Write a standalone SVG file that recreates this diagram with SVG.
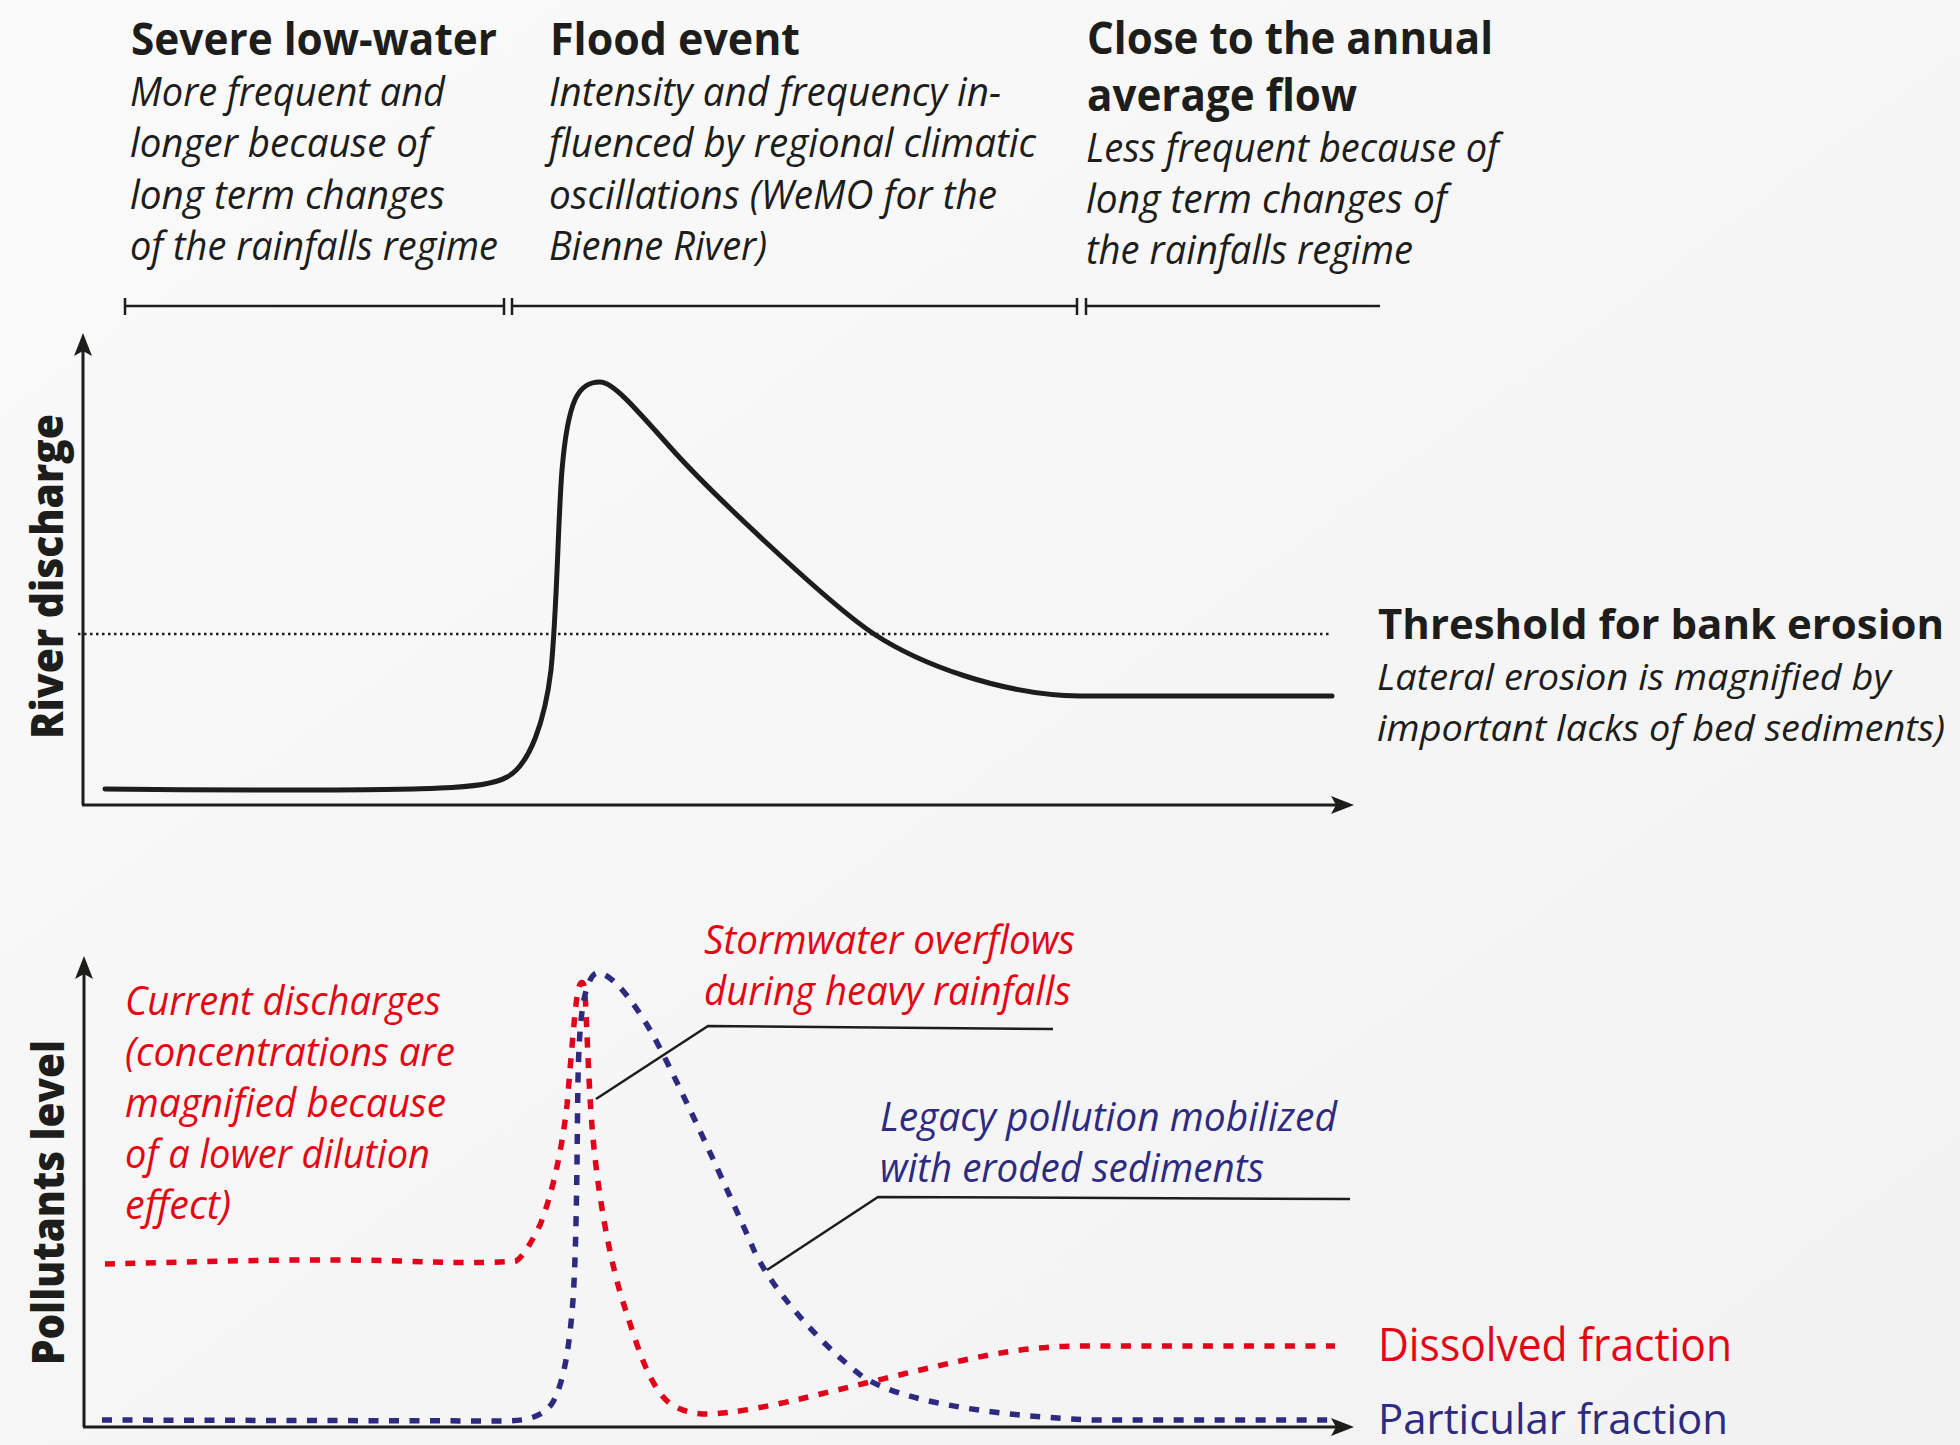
<svg xmlns="http://www.w3.org/2000/svg" width="1960" height="1445" viewBox="0 0 1960 1445">
<defs>
<linearGradient id="bg" x1="0" y1="0" x2="1" y2="1">
<stop offset="0" stop-color="#fafafa"/>
<stop offset="1" stop-color="#f2f2f2"/>
</linearGradient>
<marker id="arr" viewBox="0 0 24 18" markerWidth="24" markerHeight="18" refX="13" refY="9" orient="auto" markerUnits="userSpaceOnUse">
<path d="M0,0 L23,9 L0,18 L5,9 Z" fill="#1d1d1b"/>
</marker>
<style>
text { font-family: "Open Sans", "Noto Sans", "Liberation Sans", sans-serif; }
.hb { font-weight: 700; font-size: 44px; fill: #1d1d1b; }
.it { font-style: italic; font-size: 40px; fill: #1d1d1b; }
.vl { font-weight: 800; font-size: 44px; fill: #1d1d1b; }
.lab { font-size: 45px; }
.red { fill: #e30613; }
.blue { fill: #2d2a80; }
.ax { stroke: #1d1d1b; stroke-width: 3; fill: none; }
.bar { stroke: #1d1d1b; stroke-width: 2.5; fill: none; }
.lead { stroke: #1d1d1b; stroke-width: 2.5; fill: none; }
.thr { stroke: #1d1d1b; stroke-width: 2.5; stroke-dasharray: 2.5 3.5; fill: none; }
.q { stroke: #1d1d1b; stroke-width: 5; fill: none; stroke-linecap: round; stroke-linejoin: round; }
.dr { stroke: #e2001a; stroke-width: 5.5; stroke-dasharray: 10 10.5; fill: none; }
.db { stroke: #2d2a80; stroke-width: 5.5; stroke-dasharray: 10 10.5; fill: none; }
</style>
</defs>
<rect width="1960" height="1445" fill="url(#bg)"/>

<g id="low-water">
<text class="hb" x="131" y="55" textLength="366" lengthAdjust="spacingAndGlyphs">Severe low-water</text>
<text class="it" x="130" y="106" textLength="315" lengthAdjust="spacingAndGlyphs">More frequent and</text>
<text class="it" x="130" y="157" textLength="300" lengthAdjust="spacingAndGlyphs">longer because of</text>
<text class="it" x="130" y="209" textLength="315" lengthAdjust="spacingAndGlyphs">long term changes</text>
<text class="it" x="130" y="260" textLength="368" lengthAdjust="spacingAndGlyphs">of the rainfalls regime</text>
</g>

<g id="flood-event">
<text class="hb" x="550" y="55" textLength="250" lengthAdjust="spacingAndGlyphs">Flood event</text>
<text class="it" x="549" y="106" textLength="452" lengthAdjust="spacingAndGlyphs">Intensity and frequency in-</text>
<text class="it" x="549" y="157" textLength="487" lengthAdjust="spacingAndGlyphs">fluenced by regional climatic</text>
<text class="it" x="549" y="209" textLength="448" lengthAdjust="spacingAndGlyphs">oscillations (WeMO for the</text>
<text class="it" x="549" y="260" textLength="218" lengthAdjust="spacingAndGlyphs">Bienne River)</text>
</g>

<g id="average-flow">
<text class="hb" x="1087" y="54" textLength="406" lengthAdjust="spacingAndGlyphs">Close to the annual</text>
<text class="hb" x="1087" y="111" textLength="270" lengthAdjust="spacingAndGlyphs">average flow</text>
<text class="it" x="1086" y="162" textLength="413" lengthAdjust="spacingAndGlyphs">Less frequent because of</text>
<text class="it" x="1086" y="213" textLength="361" lengthAdjust="spacingAndGlyphs">long term changes of</text>
<text class="it" x="1086" y="264" textLength="327" lengthAdjust="spacingAndGlyphs">the rainfalls regime</text>
</g>

<g id="timeline">
<path class="bar" d="M125,306 H504 M125,298 V315 M504,298 V315"/>
<path class="bar" d="M512,306 H1077 M512,298 V315 M1077,298 V315"/>
<path class="bar" d="M1086,306 H1380 M1086,298 V315"/>
</g>

<g id="discharge-chart">
<path class="ax" d="M83,805 V343" marker-end="url(#arr)"/>
<path class="ax" d="M82,805 H1344" marker-end="url(#arr)"/>
<path class="thr" d="M78,634 H1329"/>
<path class="q" d="M105,789 C250,791 400,790 440,788 C470,787 495,784 507,777 C530,765 545,720 551,670 C557,610 558,520 562,470 C568,400 578,382 600,382 C612,382 630,402 670,447 C710,492 830,605 874,634 C918,663 1000,695 1080,696 L1332,696"/>
<text class="vl" transform="translate(63,739) rotate(-90)" textLength="325" lengthAdjust="spacingAndGlyphs">River discharge</text>
</g>

<g id="threshold">
<text class="hb" x="1378" y="639" style="font-size:41px" textLength="566" lengthAdjust="spacingAndGlyphs">Threshold for bank erosion</text>
<text class="it" x="1377" y="690" style="font-size:37px" textLength="514" lengthAdjust="spacingAndGlyphs">Lateral erosion is magnified by</text>
<text class="it" x="1377" y="741" style="font-size:37px" textLength="568" lengthAdjust="spacingAndGlyphs">important lacks of bed sediments)</text>
</g>

<g id="pollutants-chart">
<path class="ax" d="M84,1427 V966" marker-end="url(#arr)"/>
<path class="ax" d="M83,1427 H1344" marker-end="url(#arr)"/>
<path id="dissolved-curve" class="dr" d="M105,1264 C200,1262 300,1258 400,1261 C450,1263 500,1263 516,1261 C522,1258 530,1245 540,1225 C552,1195 562,1150 567,1105 C571,1060 575,1005 578,991 C580,980 584,979 585,992 C587,1030 589,1090 592,1126 C597,1190 610,1265 626,1311 C637,1345 650,1390 672,1405 C685,1412 695,1414 707,1414 C730,1414 770,1406 800,1399 C850,1387 910,1372 960,1361 C1000,1352 1040,1346 1080,1346 L1335,1346"/>
<path id="particular-curve" class="db" d="M102,1420 L505,1421 C530,1421 545,1415 553,1402 C565,1380 570,1340 573,1300 C577,1240 577,1140 578,1080 C579,1030 582,1000 588,985 C591,977 594,973 598,973 C610,973 630,995 653,1035 C675,1075 730,1195 753,1248 C768,1283 815,1340 863,1377 C900,1400 980,1415 1093,1420 L1333,1420"/>
<text class="vl" transform="translate(64,1365) rotate(-90)" textLength="325" lengthAdjust="spacingAndGlyphs">Pollutants level</text>
</g>

<g id="current-discharges">
<text class="it red" x="125" y="1015" textLength="316" lengthAdjust="spacingAndGlyphs">Current discharges</text>
<text class="it red" x="125" y="1066" textLength="330" lengthAdjust="spacingAndGlyphs">(concentrations are</text>
<text class="it red" x="125" y="1117" textLength="321" lengthAdjust="spacingAndGlyphs">magnified because</text>
<text class="it red" x="125" y="1168" textLength="305" lengthAdjust="spacingAndGlyphs">of a lower dilution</text>
<text class="it red" x="125" y="1219" textLength="106" lengthAdjust="spacingAndGlyphs">effect)</text>
</g>

<g id="stormwater">
<text class="it red" x="704" y="954" textLength="371" lengthAdjust="spacingAndGlyphs">Stormwater overflows</text>
<text class="it red" x="704" y="1005" textLength="367" lengthAdjust="spacingAndGlyphs">during heavy rainfalls</text>
</g>

<g id="legacy">
<text class="it blue" x="880" y="1131" textLength="457" lengthAdjust="spacingAndGlyphs">Legacy pollution mobilized</text>
<text class="it blue" x="880" y="1182" textLength="384" lengthAdjust="spacingAndGlyphs">with eroded sediments</text>
</g>

<g id="dissolved-label">
<text class="lab red" x="1378" y="1361" textLength="354" lengthAdjust="spacingAndGlyphs">Dissolved fraction</text>
</g>

<g id="particular-label">
<text class="lab blue" x="1378" y="1434" style="font-size:42px" textLength="350" lengthAdjust="spacingAndGlyphs">Particular fraction</text>
</g>

<g id="connectors">
<path class="lead" d="M596,1099 L708,1026 L1053,1029"/>
<path class="lead" d="M767,1270 L878,1197 L1350,1199"/>
</g>
</svg>
